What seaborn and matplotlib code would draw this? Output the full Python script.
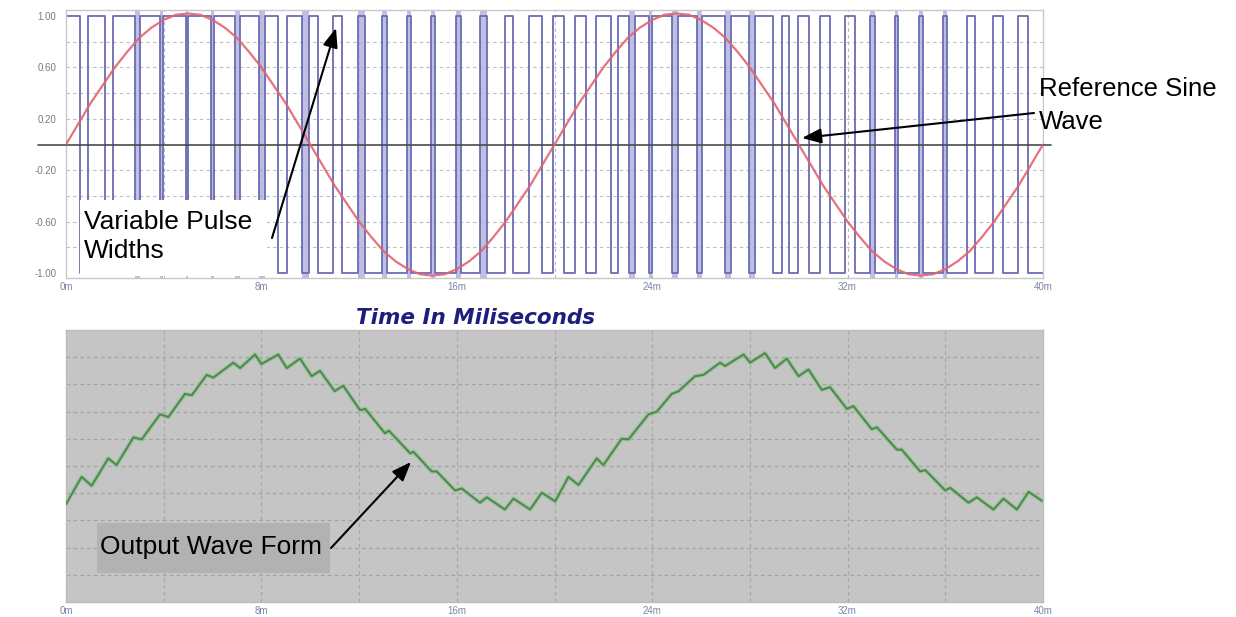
import matplotlib
matplotlib.use("Agg")
import matplotlib.pyplot as plt
import seaborn as sns
import numpy as np
from matplotlib.patches import Rectangle, FancyArrowPatch

# ------------------------------------------------------------------ data
x_tick_ms = [0, 8, 16, 24, 32, 40]
x_tick_labels = ["0m", "8m", "16m", "24m", "32m", "40m"]
y_tick_values = [1.0, 0.6, 0.2, -0.2, -0.6, -1.0]
y_tick_labels = ["1.00", "0.60", "0.20", "-0.20", "-0.60", "-1.00"]

# PWM: starts high at 0 ms, each edge toggles the level (ms)
pwm_start_level = 1.0
pwm_edges_ms = [0.57, 0.91, 1.60, 1.94, 2.82, 3.02, 3.86, 3.99, 4.90, 5.01,
                5.92, 6.05, 6.93, 7.12, 7.90, 8.15, 8.69, 9.04, 9.65, 9.95,
                10.33, 10.95, 11.29, 11.97, 12.24, 12.95, 13.13, 13.95, 14.13, 14.95,
                15.11, 15.96, 16.18, 16.95, 17.23, 17.98, 18.32, 18.96, 19.48, 19.92,
                20.40, 20.85, 21.30, 21.68, 22.30, 22.62, 23.05, 23.30, 23.86, 23.98,
                24.82, 25.05, 25.85, 26.03, 26.98, 27.24, 27.98, 28.20, 28.95, 29.30,
                29.60, 29.98, 30.40, 30.88, 31.29, 31.90, 32.31, 32.92, 33.13, 33.95,
                34.08, 34.93, 35.10, 35.91, 36.06, 36.88, 37.22, 37.96, 38.37, 38.98,
                39.40]

sine_t_ms = [0.0, 0.5, 1.0, 1.5, 2.0, 2.5, 3.0, 3.5, 4.0, 4.5,
             5.0, 5.5, 6.0, 6.5, 7.0, 7.5, 8.0, 8.5, 9.0, 9.5,
             10.0, 10.5, 11.0, 11.5, 12.0, 12.5, 13.0, 13.5, 14.0, 14.5,
             15.0, 15.5, 16.0, 16.5, 17.0, 17.5, 18.0, 18.5, 19.0, 19.5,
             20.0, 20.5, 21.0, 21.5, 22.0, 22.5, 23.0, 23.5, 24.0, 24.5,
             25.0, 25.5, 26.0, 26.5, 27.0, 27.5, 28.0, 28.5, 29.0, 29.5,
             30.0, 30.5, 31.0, 31.5, 32.0, 32.5, 33.0, 33.5, 34.0, 34.5,
             35.0, 35.5, 36.0, 36.5, 37.0, 37.5, 38.0, 38.5, 39.0, 39.5, 40.0]
sine_v = [0.00, 0.16, 0.32, 0.46, 0.60, 0.72, 0.83, 0.91, 0.97, 1.01,
          1.02, 1.01, 0.97, 0.91, 0.83, 0.72, 0.60, 0.46, 0.32, 0.16,
          0.00, -0.16, -0.32, -0.46, -0.60, -0.72, -0.83, -0.91, -0.97, -1.01,
          -1.02, -1.01, -0.97, -0.91, -0.83, -0.72, -0.60, -0.46, -0.32, -0.16,
          0.00, 0.16, 0.32, 0.46, 0.60, 0.72, 0.83, 0.91, 0.97, 1.01,
          1.02, 1.01, 0.97, 0.91, 0.83, 0.72, 0.60, 0.46, 0.32, 0.16,
          0.00, -0.16, -0.32, -0.46, -0.60, -0.72, -0.83, -0.91, -0.97, -1.01,
          -1.02, -1.01, -0.97, -0.91, -0.83, -0.72, -0.60, -0.46, -0.32, -0.16, 0.00]

output_t_ms = [0.00, 0.64, 1.05, 1.73, 2.07, 2.76, 3.10, 3.85, 4.19, 4.87,
               5.15, 5.76, 6.03, 6.85, 7.13, 7.74, 8.00, 8.69, 9.04, 9.58,
               10.06, 10.40, 11.00, 11.35, 12.04, 12.25, 13.06, 13.22, 14.09, 14.22,
               14.97, 15.18, 15.93, 16.20, 16.95, 17.23, 17.97, 18.32, 19.00, 19.48,
               20.03, 20.57, 20.98, 21.73, 22.00, 22.75, 23.03, 23.85, 24.19, 24.80,
               25.08, 25.75, 26.10, 26.78, 26.98, 27.74, 28.01, 28.62, 29.03, 29.51,
               29.99, 30.40, 30.94, 31.28, 31.97, 32.24, 32.99, 33.20, 34.02, 34.22,
               34.97, 35.18, 36.00, 36.20, 36.95, 37.29, 37.97, 38.38, 38.93, 39.41, 39.95]
output_v = [-0.28, -0.08, -0.145, 0.056, 0.007, 0.21, 0.196, 0.38, 0.36, 0.53,
            0.52, 0.67, 0.65, 0.76, 0.72, 0.82, 0.75, 0.82, 0.72, 0.79,
            0.66, 0.70, 0.55, 0.59, 0.41, 0.42, 0.24, 0.26, 0.093, 0.105,
            -0.04, -0.04, -0.18, -0.165, -0.27, -0.23, -0.32, -0.24, -0.32, -0.196,
            -0.26, -0.08, -0.14, 0.056, 0.007, 0.20, 0.196, 0.38, 0.40, 0.53,
            0.55, 0.66, 0.67, 0.76, 0.735, 0.82, 0.76, 0.83, 0.72, 0.79,
            0.66, 0.71, 0.56, 0.58, 0.42, 0.44, 0.27, 0.285, 0.12, 0.12,
            -0.04, -0.03, -0.18, -0.16, -0.27, -0.23, -0.32, -0.24, -0.32, -0.19, -0.255]

# ------------------------------------------------------------------ style
sns.set_style("white")
plt.rcParams["font.family"] = ["Liberation Sans", "DejaVu Sans"]

W, H = 1236, 617
fig = plt.figure(figsize=(W / 100, H / 100), dpi=100)
fig.patch.set_facecolor("white")


def fx(px):
    return px / W


def fy(py):
    return 1 - py / H


ax1 = fig.add_axes([fx(66), fy(278), fx(1043) - fx(66), fy(10) - fy(278)])
ax2 = fig.add_axes([fx(66), fy(602), fx(1043) - fx(66), fy(330) - fy(602)])

# ------------------------------------------------------------------ top panel
ax1.set_xlim(0, 40)
ax1.set_ylim(-1.039, 1.047)
ax1.set_facecolor("white")
for v in [-0.8, -0.6, -0.4, -0.2, 0.2, 0.4, 0.6, 0.8]:
    ax1.axhline(v, color="#bdbdbd", lw=0.8, ls=(0, (3, 3)), zorder=0)
for t in range(4, 40, 4):
    ax1.axvline(t, color="#b8b8b8", lw=0.8, ls=(0, (3, 3)), zorder=0)

# PWM step trace
pwm_t = [0.0] + pwm_edges_ms + [40.0]
levels = [pwm_start_level]
for _ in pwm_edges_ms:
    levels.append(-levels[-1])
levels.append(levels[-1])
# light shading inside very narrow pulses / notches
for a, b in zip(pwm_t[:-1], pwm_t[1:]):
    if b - a < 0.3:
        ax1.axvspan(a, b, color="#aeb0dc", alpha=0.8, lw=0, zorder=1)
sns.lineplot(x=pwm_t, y=levels, ax=ax1, estimator=None, sort=False,
             drawstyle="steps-post", color="#6a6cb4", lw=1.3, zorder=2)

ax1.axhline(0, xmin=-0.029, xmax=1.008, color="#4a4a4a", lw=1.2, clip_on=False, zorder=3)

sns.lineplot(x=sine_t_ms, y=sine_v, ax=ax1, estimator=None, sort=False,
             color="#e2646e", lw=1.6, alpha=0.9, zorder=4)

ax1.set_xticks(x_tick_ms)
ax1.set_xticklabels(x_tick_labels)
ax1.set_yticks(y_tick_values)
ax1.set_yticklabels(y_tick_labels)
ax1.tick_params(axis="x", length=0, pad=3, labelsize=7, labelcolor="#7a86a6")
ax1.tick_params(axis="y", length=0, pad=7, labelsize=7, labelcolor="#7a7a7a")
for s in ax1.spines.values():
    s.set_color("#c8c8c8")
    s.set_linewidth(1.0)
ax1.set_xlabel("")
ax1.set_ylabel("")

# ------------------------------------------------------------------ bottom panel
ax2.set_xlim(0, 40)
ax2.set_ylim(-1.0, 1.0)
ax2.set_facecolor("#c5c5c5")
for v in [-0.8, -0.6, -0.4, -0.2, 0.0, 0.2, 0.4, 0.6, 0.8]:
    ax2.axhline(v, color="#a3a3a3", lw=0.9, ls=(0, (3, 2.5)), zorder=0)
for t in range(4, 40, 4):
    ax2.axvline(t, color="#a8a8a8", lw=0.9, ls=(0, (3, 2.5)), zorder=0)
sns.lineplot(x=output_t_ms, y=output_v, ax=ax2, estimator=None, sort=False,
             color="#8fc48f", lw=3.2, alpha=0.7, zorder=2)
sns.lineplot(x=output_t_ms, y=output_v, ax=ax2, estimator=None, sort=False,
             color="#4f8a4f", lw=1.5, zorder=3)
ax2.set_xticks(x_tick_ms)
ax2.set_xticklabels(x_tick_labels)
ax2.set_yticks([])
ax2.tick_params(axis="x", length=0, pad=3, labelsize=7, labelcolor="#7a86a6")
for s in ax2.spines.values():
    s.set_color("#bcbcbc")
    s.set_linewidth(1.0)
ax2.set_xlabel("")
ax2.set_ylabel("")

# ------------------------------------------------------------------ annotations
fig.text(fx(476), fy(318), "Time In Miliseconds", ha="center", va="center",
         fontsize=15.5, fontweight="bold", style="italic", color="#1e1e7c",
         family="DejaVu Sans", zorder=8)

# Variable Pulse Widths
fig.add_artist(Rectangle((fx(80), fy(276)), fx(267) - fx(80), fy(200) - fy(276),
                         transform=fig.transFigure, facecolor="white",
                         edgecolor="none", zorder=5))
fig.text(fx(84), fy(210), "Variable Pulse\nWidths", ha="left", va="top",
         fontsize=19, color="black", linespacing=1.25, zorder=6)
fig.add_artist(FancyArrowPatch((fx(272), fy(238)), (fx(336), fy(28)),
                               transform=fig.transFigure,
                               arrowstyle="-|>,head_length=0.9,head_width=0.35",
                               mutation_scale=13, lw=1.5, color="black",
                               shrinkA=0, shrinkB=0, zorder=7))

# Reference Sine Wave
fig.add_artist(Rectangle((fx(1044), fy(141)), fx(1232) - fx(1044), fy(73) - fy(141),
                         transform=fig.transFigure, facecolor="white",
                         edgecolor="none", zorder=5))
fig.text(fx(1039), fy(77), "Reference Sine\nWave", ha="left", va="top",
         fontsize=18.5, color="black", linespacing=1.45, zorder=6)
fig.add_artist(FancyArrowPatch((fx(1034), fy(113)), (fx(802), fy(138)),
                               transform=fig.transFigure,
                               arrowstyle="-|>,head_length=0.9,head_width=0.35",
                               mutation_scale=13, lw=1.5, color="black",
                               shrinkA=0, shrinkB=0, zorder=7))

# Output Wave Form
fig.add_artist(Rectangle((fx(97), fy(573)), fx(330) - fx(97), fy(523) - fy(573),
                         transform=fig.transFigure, facecolor="#b2b2b2",
                         edgecolor="none", zorder=5))
fig.text(fx(100), fy(554), "Output Wave Form", ha="left", va="baseline",
         fontsize=19, color="black", zorder=6)
fig.add_artist(FancyArrowPatch((fx(331), fy(548)), (fx(411), fy(462)),
                               transform=fig.transFigure,
                               arrowstyle="-|>,head_length=0.9,head_width=0.35",
                               mutation_scale=13, lw=1.5, color="black",
                               shrinkA=0, shrinkB=0, zorder=7))

fig.savefig("out.png", dpi=100, facecolor="white")
